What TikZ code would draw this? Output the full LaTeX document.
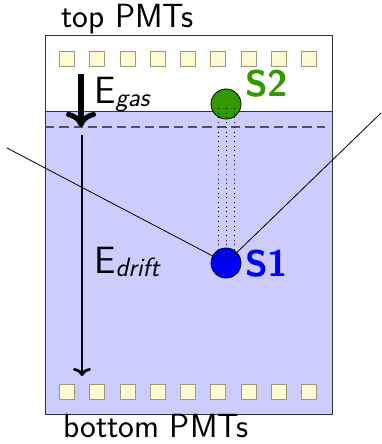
\documentclass[tikz,border=0pt]{standalone}
\usepackage{fontspec}
\usetikzlibrary{arrows.meta}
\definecolor{pmtfill}{RGB}{255,250,210}
\definecolor{pmtdraw}{RGB}{160,152,120}
\definecolor{liquid}{RGB}{204,204,255}
\definecolor{sgreen}{RGB}{51,153,0}
\definecolor{boxdraw}{RGB}{50,50,60}
\definecolor{dashcol}{RGB}{80,80,100}
\tikzset{
  pmt/.style={draw=pmtdraw, fill=pmtfill, line width=1pt, minimum size=15pt, inner sep=0pt},
  sig/.style={circle, draw=black, line width=0.8pt, minimum size=30pt, inner sep=0pt},
  lbl/.style={anchor=base west, inner sep=0pt, font=\sffamily\fontsize{33.5}{38}\selectfont},
  elbl/.style={anchor=base west, inner sep=0pt, font=\sffamily\fontsize{38}{40}\selectfont},
  slbl/.style={anchor=base west, inner sep=0pt, font=\sffamily\bfseries\fontsize{37}{40}\selectfont},
  ray/.style={line width=0.8pt, black},
  drift/.style={dash pattern=on 0.8pt off 3.9pt, line width=0.8pt, black},
}
\begin{document}
\begin{tikzpicture}[x=1pt,y=-1pt]
\useasboundingbox (0,0) rectangle (381,444);
% detector
\draw[boxdraw, line width=1pt, fill=white] (45,36) rectangle (332,414);
\draw[boxdraw, line width=1pt, fill=liquid] (45,111) rectangle (332,414);
\draw[dashcol, line width=1.3pt, dash pattern=on 9.3pt off 5pt] (45,127) -- (325,127);
% PMTs
\foreach \i in {1,...,9} {
  \node[pmt] (tp\i) at ({67+30.25*(\i-1)},59) {};
  \node[pmt] (bp\i) at ({67+30.25*(\i-1)},391.5) {};
}
% fields
\coordinate (ga) at (81,74);
\coordinate (gb) at (81,127);
\coordinate (da) at (82,135);
\coordinate (db) at (82,376);
\draw[line width=6pt, -{Computer Modern Rightarrow[length=15pt,width=30pt,line width=5pt]}] (ga) -- (gb);
\draw[line width=2.7pt, -{Computer Modern Rightarrow[length=8pt,width=18pt,line width=2.7pt]}] (da) -- (db);
% signals
\coordinate (lA) at (7,148);
\coordinate (rA) at (381,113);
\node[sig, fill=sgreen] (s2) at (226,104) {};
\node[sig, fill=blue] (s1) at (226,263) {};
\draw[ray] (lA) -- (s1);
\draw[ray] (rA) -- (s1);
\foreach \dx in {-8,0,8} {
  \draw[drift] ([xshift=\dx pt, yshift=-4pt]s2.center) -- ([xshift=\dx pt]s1.center);
}
% labels
\node[lbl] (top) at (61,28) {top PMTs};
\node[lbl] (bot) at (63,437) {bottom PMTs};
\node[elbl] (eg) at (94,103) {E\fontsize{26.5}{28}\selectfont\itshape\raisebox{-3pt}{gas}};
\node[elbl] (ed) at (94,273) {E\fontsize{26.5}{28}\selectfont\itshape\raisebox{-3pt}{drift}};
\node[slbl, text=sgreen] (l2) at (245,96) {S2};
\node[slbl, text=blue] (l1) at (245,276) {S1};
\end{tikzpicture}
\end{document}
